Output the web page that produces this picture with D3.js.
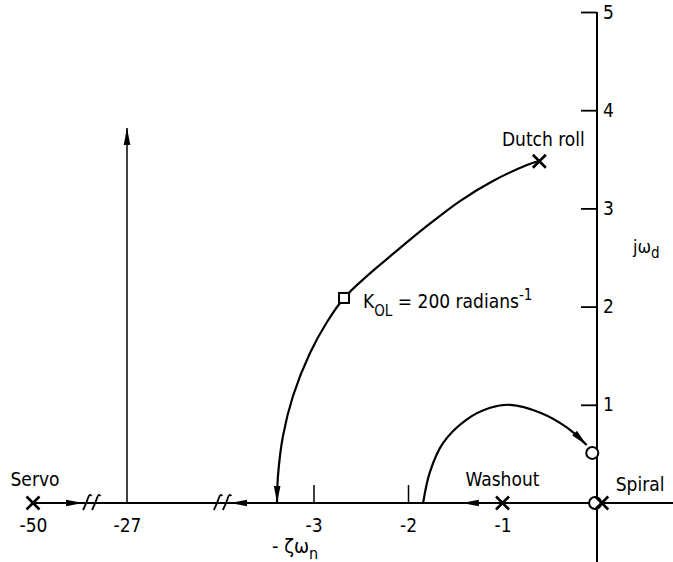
<!DOCTYPE html>
<html>
<head>
<meta charset="utf-8">
<script src="https://cdn.jsdelivr.net/npm/d3@7"></script>
<style>
  html, body { margin: 0; background: #fff; }
  svg { display: block; }
  text { font-family: "DejaVu Sans Condensed", "DejaVu Sans", sans-serif; font-stretch: condensed; fill: #000; }
</style>
</head>
<body>
<svg id="chart" width="673" height="562"></svg>
<script>
// Real axis: labelled values, short tick marks, and the two break positions
const realTickLabels = [-50, -27, -3, -2, -1];
const realTickMarks = [-3, -2];
const axisBreaks = [-35.8, -3.97];
// Imaginary axis ticks
const imagTicks = [1, 2, 3, 4, 5];

// Open-loop poles (crosses) and zeros (circles)
const poleNames = ["Servo", "Washout", "Spiral", "Dutch roll"];
const poleRe = [-50, -1, 0.05, -0.61];
const poleIm = [0, 0, 0, 3.48];
const zeroRe = [-0.02, -0.05];
const zeroIm = [0, 0.51];

// Root-locus branch leaving the Dutch roll pole
const dutchRollRe = [-0.614, -0.741, -1.101, -1.450, -1.799, -2.159, -2.434, -2.677, -2.857, -3.037, -3.217, -3.323, -3.376, -3.386];
const dutchRollIm = [3.483, 3.442, 3.279, 3.075, 2.821, 2.536, 2.312, 2.088, 1.843, 1.527, 1.090, 0.682, 0.275, 0];

// Branch from the real-axis breakaway point into the complex zero
const washoutRe = [-1.84, -1.77, -1.63, -1.38, -1.13, -0.92, -0.60, -0.32, -0.11];
const washoutIm = [0, 0.31, 0.61, 0.85, 0.97, 1.00, 0.92, 0.77, 0.59];

// Gain point K_OL = 200 on the Dutch roll branch
const gainRe = [-2.677];
const gainIm = [2.088];

// Asymptote at -27 and real-axis direction arrows [from, to]
const asymptoteRe = -27;
const asymptoteTop = 3.82;
const realArrowFrom = [-50, -3.69, -1.28];
const realArrowTo = [-37.8, -3.88, -1.43];

const svg = d3.select("#chart");

// Broken real axis: a piecewise-linear scale (far-left section, middle section, near-origin section)
const x = d3.scaleLinear()
  .domain([-50, -27, -4, 0])
  .range([33, 127, 219, 597]);
const y = d3.scaleLinear()
  .domain([0, 5])
  .range([503, 12]);

// Arrowhead marker
const defs = svg.append("defs");
defs.append("marker")
  .attr("id", "arrow")
  .attr("viewBox", "0 -4 17 8")
  .attr("refX", 17).attr("refY", 0)
  .attr("markerUnits", "userSpaceOnUse")
  .attr("markerWidth", 17).attr("markerHeight", 8)
  .attr("orient", "auto")
  .append("path")
  .attr("d", "M0,-3.3L17,0L0,3.3Z")
  .attr("fill", "#000");

// Axis lines
svg.append("line")
  .attr("x1", x(-50)).attr("x2", 673)
  .attr("y1", y(0)).attr("y2", y(0))
  .attr("stroke", "#000").attr("stroke-width", 2);
svg.append("line")
  .attr("x1", x(0)).attr("x2", x(0))
  .attr("y1", y(5)).attr("y2", 562)
  .attr("stroke", "#000").attr("stroke-width", 2);

// Real-axis tick labels
svg.append("g")
  .attr("transform", `translate(0,${y(0)})`)
  .call(d3.axisBottom(x).tickValues(realTickLabels).tickSize(0).tickPadding(16).tickFormat(d => String(d)))
  .call(g => g.select(".domain").remove())
  .call(g => g.selectAll("text").attr("font-size", 19).attr("font-family", null));

// Real-axis tick marks (pointing up)
svg.append("g")
  .attr("transform", `translate(0,${y(0)})`)
  .call(d3.axisBottom(x).tickValues(realTickMarks).tickSize(-18).tickFormat(""))
  .call(g => g.select(".domain").remove())
  .call(g => g.selectAll("line").attr("stroke-width", 1.5));

// Imaginary-axis ticks and labels
svg.append("g")
  .attr("transform", `translate(${x(0)},0)`)
  .call(d3.axisRight(y).tickValues(imagTicks).tickSize(-16).tickPadding(6).tickFormat(d => String(d)))
  .call(g => g.select(".domain").remove())
  .call(g => g.selectAll("line").attr("stroke-width", 1.8))
  .call(g => g.selectAll("text").attr("font-size", 19).attr("font-family", null));

// Axis break marks
const breakG = svg.append("g").attr("stroke", "#000").attr("stroke-width", 1.8).attr("fill", "none");
axisBreaks.forEach(b => {
  const cx = x(b), cy = y(0);
  [-4.5, 4.5].forEach(off => {
    breakG.append("path")
      .attr("d", `M${cx + off - 3.5},${cy + 7} Q${cx + off},${cy} ${cx + off + 1.5},${cy - 5} T${cx + off + 5},${cy - 7}`);
  });
});

// Asymptote at -27
svg.append("line")
  .attr("x1", x(asymptoteRe)).attr("x2", x(asymptoteRe))
  .attr("y1", y(0)).attr("y2", y(asymptoteTop))
  .attr("stroke", "#000").attr("stroke-width", 1.5)
  .attr("marker-end", "url(#arrow)");

// Direction arrows along the real axis
realArrowFrom.forEach((f, i) => {
  svg.append("line")
    .attr("x1", x(f)).attr("x2", x(realArrowTo[i]))
    .attr("y1", y(0)).attr("y2", y(0))
    .attr("stroke", "#000").attr("stroke-width", 2)
    .attr("marker-end", "url(#arrow)");
});

// Locus branches
const locusLine = d3.line()
  .x(d => x(d[0]))
  .y(d => y(d[1]))
  .curve(d3.curveCatmullRom.alpha(0.5));

svg.append("path")
  .datum(dutchRollRe.map((r, i) => [r, dutchRollIm[i]]))
  .attr("d", locusLine)
  .attr("fill", "none").attr("stroke", "#000").attr("stroke-width", 2.2)
  .attr("marker-end", "url(#arrow)");

svg.append("path")
  .datum(washoutRe.map((r, i) => [r, washoutIm[i]]))
  .attr("d", locusLine)
  .attr("fill", "none").attr("stroke", "#000").attr("stroke-width", 2.2)
  .attr("marker-end", "url(#arrow)");

// Gain marker (square)
svg.selectAll("rect.gain")
  .data(gainRe.map((r, i) => [r, gainIm[i]]))
  .join("rect")
  .attr("class", "gain")
  .attr("x", d => x(d[0]) - 5).attr("y", d => y(d[1]) - 5)
  .attr("width", 10).attr("height", 10)
  .attr("fill", "#fff").attr("stroke", "#000").attr("stroke-width", 2);

// Zeros
svg.selectAll("circle.zero")
  .data(zeroRe.map((r, i) => [r, zeroIm[i]]))
  .join("circle")
  .attr("class", "zero")
  .attr("cx", d => x(d[0])).attr("cy", d => y(d[1]))
  .attr("r", 6)
  .attr("fill", "#fff").attr("stroke", "#000").attr("stroke-width", 2);

// Poles
const s = 6.5;
svg.selectAll("path.pole")
  .data(poleRe.map((r, i) => [r, poleIm[i]]))
  .join("path")
  .attr("class", "pole")
  .attr("d", d => {
    const px = x(d[0]), py = y(d[1]);
    return `M${px - s},${py - s}L${px + s},${py + s}M${px - s},${py + s}L${px + s},${py - s}`;
  })
  .attr("stroke", "#000").attr("stroke-width", 2.6).attr("fill", "none");

// Pole labels
const labelOffsets = [[2, -17, "middle"], [0, -17, "middle"], [14, -12, "start"], [4, -15, "middle"]];
svg.selectAll("text.pole-label")
  .data(poleNames)
  .join("text")
  .attr("class", "pole-label")
  .attr("x", (d, i) => x(poleRe[i]) + labelOffsets[i][0])
  .attr("y", (d, i) => y(poleIm[i]) + labelOffsets[i][1])
  .attr("text-anchor", (d, i) => labelOffsets[i][2])
  .attr("font-size", 19)
  .text(d => d);

// Gain annotation
const kText = svg.append("text")
  .attr("x", x(gainRe[0]) + 19).attr("y", y(gainIm[0]) + 10)
  .attr("font-size", 19);
kText.append("tspan").text("K");
kText.append("tspan").attr("dy", 8).attr("font-size", 15).text("OL");
kText.append("tspan").attr("dy", -8).text(" = 200 radians");
kText.append("tspan").attr("dy", -8).attr("font-size", 15).text("-1");

// Axis titles
const xTitle = svg.append("text")
  .attr("x", 272).attr("y", 553)
  .attr("font-size", 20);
xTitle.append("tspan").text("- ζω");
xTitle.append("tspan").attr("dy", 6).attr("font-size", 16).text("n");

const yTitle = svg.append("text")
  .attr("x", 633).attr("y", 253)
  .attr("font-size", 18);
yTitle.append("tspan").text("jω");
yTitle.append("tspan").attr("dy", 5).attr("font-size", 15).text("d");
</script>
</body>
</html>
